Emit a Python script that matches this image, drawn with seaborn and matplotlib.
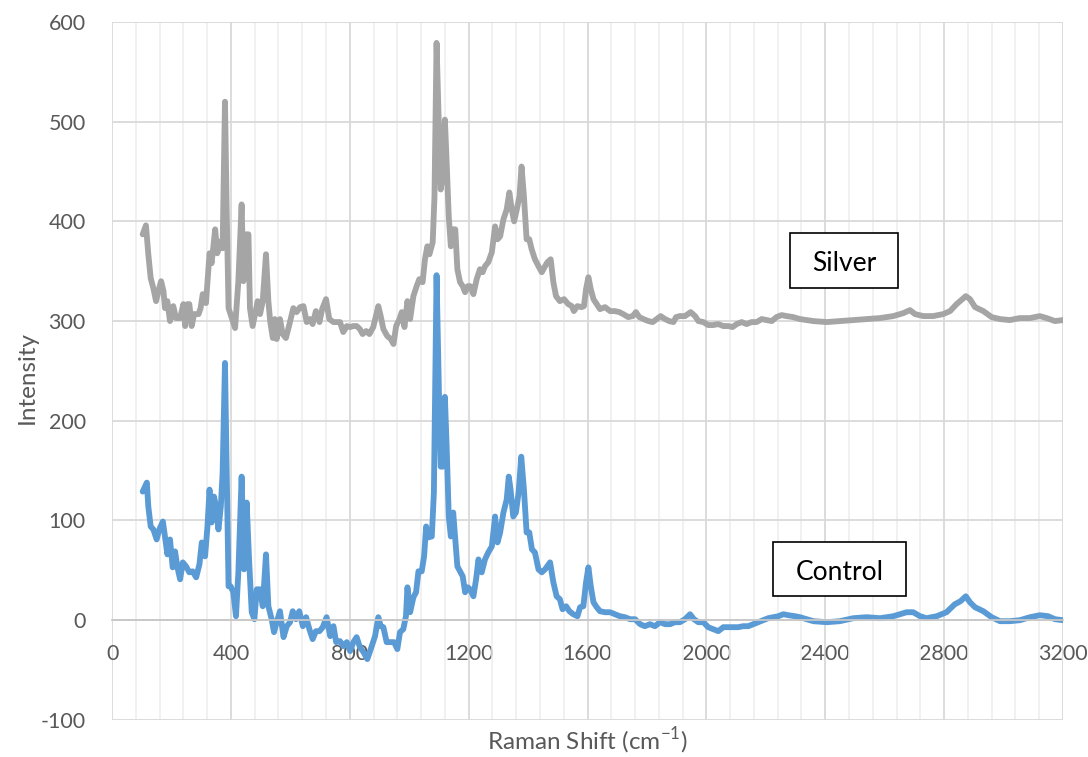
import matplotlib
matplotlib.use("Agg")
import matplotlib.pyplot as plt
import matplotlib.patches as mpatches
from matplotlib.ticker import MultipleLocator
import pandas as pd
import seaborn as sns

# Raman spectra (shift in cm-1, intensity in counts)
silver_shift = [103, 114, 122, 130, 139, 148, 156, 165, 173, 178, 186, 195, 206, 215, 229, 240, 246, 254, 260,
                268, 276, 291, 298, 305, 316, 328, 335, 347, 354, 366, 372, 380, 386, 392, 403, 414, 425, 436,
                442, 451, 459, 464, 473, 481, 490, 498, 507, 518, 526, 532, 541, 548, 554, 565, 574, 585, 597,
                610, 621, 633, 644, 655, 666, 675, 686, 698, 707, 720, 731, 745, 756, 767, 778, 790, 801, 812,
                823, 834, 843, 855, 866, 879, 888, 896, 904, 913, 926, 938, 947, 956, 967, 975, 984, 994, 1003,
                1014, 1025, 1034, 1045, 1053, 1061, 1068, 1079, 1085, 1092, 1100, 1106, 1113, 1120, 1126, 1133,
                1140, 1148, 1155, 1162, 1171, 1180, 1188, 1197, 1205, 1216, 1227, 1238, 1247, 1255, 1266, 1278,
                1289, 1297, 1306, 1317, 1328, 1337, 1345, 1353, 1362, 1371, 1378, 1386, 1395, 1404, 1412, 1423,
                1435, 1446, 1457, 1465, 1476, 1485, 1494, 1507, 1521, 1535, 1547, 1554, 1566, 1580, 1588, 1595,
                1603, 1611, 1620, 1631, 1642, 1659, 1676, 1692, 1707, 1720, 1737, 1752, 1763, 1774, 1788, 1805,
                1819, 1833, 1846, 1861, 1875, 1889, 1898, 1911, 1928, 1947, 1962, 1973, 1990, 2006, 2023, 2040,
                2057, 2074, 2088, 2102, 2119, 2135, 2152, 2169, 2186, 2203, 2220, 2236, 2253, 2270, 2292, 2315,
                2360, 2405, 2449, 2494, 2539, 2584, 2629, 2663, 2685, 2702, 2730, 2763, 2797, 2820, 2842, 2873,
                2887, 2904, 2932, 2960, 2988, 3021, 3055, 3089, 3122, 3145, 3173, 3200]
silver_intensity = [387, 396, 367, 343, 333, 320, 330, 340, 330, 313, 320, 300, 315, 303, 303, 317, 295, 317, 317,
                    295, 307, 307, 313, 327, 318, 368, 358, 392, 368, 380, 373, 520, 407, 313, 303, 293, 340, 417,
                    340, 387, 387, 313, 295, 307, 320, 307, 320, 367, 320, 300, 283, 302, 282, 302, 287, 283, 297,
                    313, 309, 314, 315, 299, 302, 297, 310, 299, 312, 322, 302, 299, 299, 299, 289, 295, 294, 295,
                    295, 292, 287, 290, 287, 294, 305, 315, 305, 292, 285, 282, 277, 295, 302, 309, 294, 320, 302,
                    325, 335, 342, 339, 362, 375, 367, 379, 425, 579, 492, 432, 445, 502, 459, 405,
                    375, 392, 392, 352, 339, 335, 329, 335, 335, 327, 342, 352, 349, 355, 359, 369,
                    395, 382, 385, 402, 412, 429, 412, 400, 412, 425, 455, 425, 382, 382, 372, 362,
                    355, 349, 355, 359, 362, 339, 325, 320, 322, 317, 315, 310, 315, 314, 315, 332,
                    344, 332, 322, 317, 312, 314, 310, 310, 309, 307, 304, 305, 309, 304, 302, 300,
                    299, 302, 305, 302, 300, 299, 304, 305, 305, 309, 305, 300, 299, 296, 296, 297,
                    295, 295, 294, 297, 299, 297, 299, 299, 302, 301, 300, 304, 306, 305, 304, 302,
                    300, 299, 300, 301, 302, 303, 305, 308, 311, 307, 305, 305, 307, 310, 317, 325,
                    322, 314, 310, 304, 302, 301, 303, 303, 305, 303, 300, 301]

control_shift = [103, 117, 122, 130, 139, 150, 159, 171, 178, 186, 195, 204, 212, 220, 229, 238, 249, 260, 271,
                 283, 294, 302, 313, 321, 328, 335, 343, 350, 358, 366, 372, 380, 386, 392, 399, 408, 417, 425,
                 436, 444, 453, 461, 470, 479, 487, 498, 507, 518, 526, 537, 545, 554, 565, 577, 588, 599, 608,
                 619, 630, 642, 653, 664, 675, 686, 698, 709, 722, 734, 745, 754, 767, 778, 790, 801, 812, 823,
                 834, 846, 859, 874, 885, 896, 904, 913, 924, 935, 949, 960, 969, 980, 989, 994, 1003, 1014, 1023,
                 1031, 1042, 1050, 1057, 1064, 1076, 1083, 1092, 1100, 1106, 1113, 1120, 1126, 1133, 1140, 1148,
                 1155, 1162, 1171, 1180, 1188, 1197, 1205, 1216, 1225, 1233, 1244, 1255, 1266, 1278, 1289, 1297,
                 1306, 1317, 1328, 1335, 1341, 1350, 1359, 1368, 1377, 1386, 1395, 1404, 1413, 1423, 1435, 1446,
                 1457, 1474, 1485, 1496, 1507, 1516, 1528, 1539, 1552, 1566, 1575, 1586, 1595, 1603, 1611, 1620,
                 1631, 1642, 1659, 1676, 1692, 1709, 1726, 1743, 1760, 1777, 1793, 1810, 1827, 1844, 1861, 1878,
                 1894, 1911, 1928, 1945, 1958, 1973, 1990, 2006, 2023, 2040, 2057, 2074, 2091, 2107, 2124, 2141,
                 2158, 2175, 2192, 2208, 2225, 2242, 2259, 2276, 2298, 2315, 2360, 2405, 2449, 2494, 2539, 2584,
                 2629, 2674, 2696, 2719, 2741, 2775, 2808, 2836, 2855, 2873, 2887, 2904, 2932, 2960, 2988, 3021,
                 3055, 3089, 3122, 3150, 3173, 3200]
control_intensity = [129, 138, 114, 94, 91, 81, 91, 99, 84, 66, 81, 53, 69, 53, 41, 58, 54, 48, 49,
                     43, 56, 78, 64, 94, 131, 98, 124, 114, 91, 114, 148, 258, 148, 34, 34, 28, 4, 48,
                     144, 51, 118, 61, 8, 1, 31, 31, 14, 66, 14, 1, -12, -2, 9, -17, -6, -2, 9,
                     1, 9, -6, 3, -9, -19, -11, -11, -7, 3, -16, -6, -22, -21, -26, -22, -31, -22, -17,
                     -27, -32, -39, -26, -16, 3, -6, -7, -22, -22, -22, -29, -12, -9, 4, 33, 8, 23, 28,
                     49, 49, 64, 94, 83, 84, 128, 346, 228, 154, 154, 224, 174, 104, 84, 108,
                     81, 54, 49, 44, 28, 33, 31, 24, 41, 61, 48, 61, 68, 74, 104, 78,
                     88, 108, 121, 144, 131, 104, 108, 128, 164, 131, 88, 88, 71, 68, 51, 48,
                     51, 58, 38, 24, 21, 11, 14, 9, 6, 4, 13, 14, 38, 53, 34, 18,
                     13, 9, 8, 8, 6, 4, 3, 1, 1, -4, -6, -4, -6, -2, -4, -4,
                     -2, -2, 1, 6, 1, -2, -2, -7, -9, -11, -7, -7, -7, -7, -6, -6,
                     -4, -2, 0, 2, 3, 4, 6, 5, 4, 3, -1, -2, -1, 2, 3, 2,
                     4, 8, 8, 4, 2, 4, 8, 16, 19, 24, 18, 13, 9, 3, -1, -1,
                     0, 3, 5, 4, 1, 0]

x_ticks = [0, 400, 800, 1200, 1600, 2000, 2400, 2800, 3200]
y_ticks = [-100, 0, 100, 200, 300, 400, 500, 600]
series_colors = {"Control": "#5B9BD5", "Silver": "#A5A5A5"}

spectra = pd.concat([
    pd.DataFrame({"shift": control_shift, "intensity": control_intensity, "sample": "Control"}),
    pd.DataFrame({"shift": silver_shift, "intensity": silver_intensity, "sample": "Silver"}),
], ignore_index=True)

sns.set_theme(style="white")
plt.rcParams["font.family"] = ["Lato", "DejaVu Sans"]
plt.rcParams["axes.unicode_minus"] = False
plt.rcParams["mathtext.fontset"] = "custom"
plt.rcParams["mathtext.rm"] = "Lato"

fig = plt.figure(figsize=(10.88, 7.57), dpi=100)
ax = fig.add_axes([0.103, 0.049, 0.874, 0.922])

sns.lineplot(data=spectra, x="shift", y="intensity", hue="sample", palette=series_colors,
             estimator=None, sort=False, linewidth=4.2, legend=False, ax=ax,
             solid_joinstyle="round", solid_capstyle="round")

ax.set_xlim(0, 3200)
ax.set_ylim(-100, 600)
ax.set_xticks(x_ticks)
ax.set_yticks(y_ticks)
ax.xaxis.set_minor_locator(MultipleLocator(80))
ax.grid(which="major", color="#D9D9D9", linewidth=1.3)
ax.grid(which="minor", axis="x", color="#EEEEEE", linewidth=1.1)
ax.set_axisbelow(True)

for side in ("top", "right", "left"):
    ax.spines[side].set_visible(False)
ax.spines["bottom"].set_position(("data", 0))
ax.spines["bottom"].set_color("#C8C8C8")
ax.spines["bottom"].set_linewidth(1.3)

ax.tick_params(axis="both", which="both", length=0, labelsize=15.5, labelcolor="#595959")
ax.tick_params(axis="x", pad=17)
ax.tick_params(axis="y", pad=19)

ax.set_xlabel("Raman Shift (cm$^{\\mathregular{-1}}$)", fontsize=17.5, color="#595959", va="center")
ax.set_ylabel("Intensity", fontsize=17.5, color="#595959")
ax.xaxis.set_label_coords(0.5, -0.029)
ax.yaxis.set_label_coords(-0.078, 0.49)

# Sample labels in framed boxes
for name, (x0, x1, y0, y1) in {"Silver": (2281, 2645, 333, 388),
                               "Control": (2224, 2672, 24, 78)}.items():
    ax.add_patch(mpatches.Rectangle((x0, y0), x1 - x0, y1 - y0, facecolor="white",
                                    edgecolor="black", linewidth=1.2, zorder=5))
    ax.text((x0 + x1) / 2, (y0 + y1) / 2 - 3, name, ha="center", va="center",
            fontsize=19, color="black", zorder=6)

fig.savefig("out.png", dpi=100)
